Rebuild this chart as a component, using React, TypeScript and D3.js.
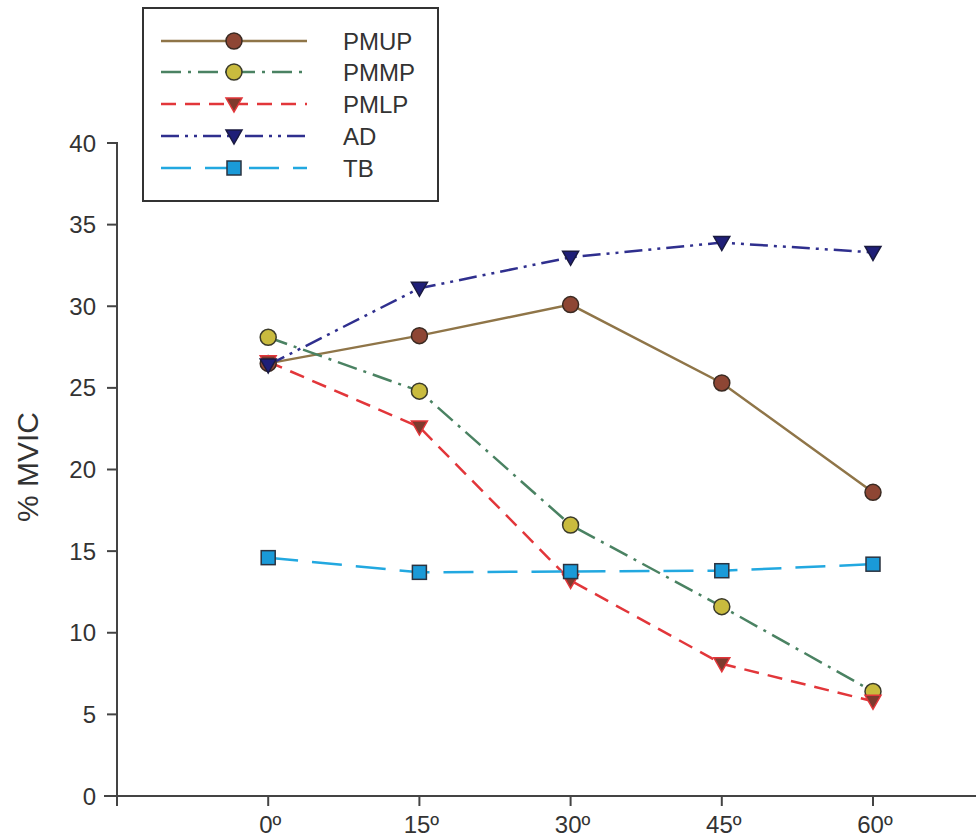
import React from "react";
import * as d3 from "d3";

const angles = [0, 15, 30, 45, 60];
const xTickLabels = ["0º", "15º", "30º", "45º", "60º"];
const yTicks = [0, 5, 10, 15, 20, 25, 30, 35, 40];

const seriesNames = ["PMUP", "PMMP", "PMLP", "AD", "TB"];
const pmup = [26.5, 28.2, 30.1, 25.3, 18.6];
const pmmp = [28.1, 24.8, 16.6, 11.6, 6.4];
const pmlp = [26.6, 22.6, 13.2, 8.1, 5.8];
const ad = [26.4, 31.1, 33.0, 33.9, 33.3];
const tb = [14.6, 13.7, 13.75, 13.8, 14.2];

const W = 976;
const H = 840;

type Style = {
  line: string;
  fill: string;
  stroke: string;
  dash: string;
  shape: "circle" | "tri" | "square";
};

const styles: Style[] = [
  { line: "#8f7548", fill: "#8e4634", stroke: "#3a2a22", dash: "", shape: "circle" },
  { line: "#4a8262", fill: "#c9bb3e", stroke: "#3a3a2a", dash: "20,7,3,7", shape: "circle" },
  { line: "#e2363a", fill: "#7e3a2e", stroke: "#e2363a", dash: "15,9", shape: "tri" },
  { line: "#2f2f8e", fill: "#1f1f78", stroke: "#1a1a40", dash: "18,6,3,6,3,6", shape: "tri" },
  { line: "#22a8e0", fill: "#1a9ad8", stroke: "#2a3340", dash: "30,14", shape: "square" },
];

const allSeries = [pmup, pmmp, pmlp, ad, tb];

function Marker({ x, y, s }: { x: number; y: number; s: Style }) {
  if (s.shape === "circle") {
    return <circle cx={x} cy={y} r={8} fill={s.fill} stroke={s.stroke} strokeWidth={1.5} />;
  }
  if (s.shape === "square") {
    return (
      <rect x={x - 7} y={y - 7} width={14} height={14} fill={s.fill} stroke={s.stroke} strokeWidth={1.5} />
    );
  }
  const p = `M${x - 8},${y - 6} L${x + 8},${y - 6} L${x},${y + 8} Z`;
  return <path d={p} fill={s.fill} stroke={s.stroke} strokeWidth={1.5} />;
}

export default function App() {
  const x = d3.scaleLinear().domain([-15, 60]).range([117, 873]);
  const y = d3.scaleLinear().domain([0, 40]).range([796, 143]);
  const line = d3
    .line<number>()
    .x((_, i) => x(angles[i]))
    .y((d) => y(d));

  const font = "Arial, 'Liberation Sans', sans-serif";
  const axisColor = "#444";
  const textColor = "#333";

  const legendRows = [41, 72, 104, 136, 168];

  return (
    <svg width={W} height={H} style={{ position: "absolute", left: 0, top: 0, background: "#fff" }}>
      {/* Axes */}
      <line x1={117} x2={117} y1={y(40) - 1} y2={806} stroke={axisColor} strokeWidth={2} />
      <line x1={104} x2={W} y1={y(0)} y2={y(0)} stroke={axisColor} strokeWidth={2} />
      {yTicks.map((t) => (
        <g key={"y" + t}>
          <line x1={107} x2={117} y1={y(t)} y2={y(t)} stroke={axisColor} strokeWidth={2} />
          <text
            x={96}
            y={y(t)}
            textAnchor="end"
            dominantBaseline="central"
            fontSize={24}
            fontFamily={font}
            fill={textColor}
          >
            {t}
          </text>
        </g>
      ))}
      {[-15, ...angles].map((a) => (
        <line key={"xt" + a} x1={x(a)} x2={x(a)} y1={y(0)} y2={y(0) + 10} stroke={axisColor} strokeWidth={2} />
      ))}
      {angles.map((a, i) => (
        <text
          key={"xl" + a}
          x={x(a) + 2}
          y={833}
          textAnchor="middle"
          fontSize={24}
          fontFamily={font}
          fill={textColor}
        >
          {xTickLabels[i]}
        </text>
      ))}
      <text
        transform={`translate(38,467) rotate(-90)`}
        textAnchor="middle"
        fontSize={30}
        fontFamily={font}
        fill={textColor}
      >
        % MVIC
      </text>

      {/* Lines */}
      {allSeries.map((data, si) => (
        <path
          key={"l" + si}
          d={line(data) || ""}
          fill="none"
          stroke={styles[si].line}
          strokeWidth={2.5}
          strokeDasharray={styles[si].dash}
        />
      ))}
      {/* Markers */}
      {allSeries.map((data, si) => (
        <g key={"m" + si}>
          {data.map((v, i) => (
            <Marker key={i} x={x(angles[i])} y={y(v)} s={styles[si]} />
          ))}
        </g>
      ))}

      {/* Legend */}
      <rect x={143} y={8} width={295} height={193} fill="#fff" stroke="#333" strokeWidth={2} />
      {seriesNames.map((name, i) => (
        <g key={"lg" + name}>
          <line
            x1={161}
            x2={307}
            y1={legendRows[i]}
            y2={legendRows[i]}
            stroke={styles[i].line}
            strokeWidth={2.5}
            strokeDasharray={styles[i].dash}
          />
          <Marker x={234} y={legendRows[i]} s={styles[i]} />
          <text
            x={343}
            y={legendRows[i]}
            dominantBaseline="central"
            fontSize={24}
            fontFamily={font}
            fill={textColor}
          >
            {name}
          </text>
        </g>
      ))}
    </svg>
  );
}
